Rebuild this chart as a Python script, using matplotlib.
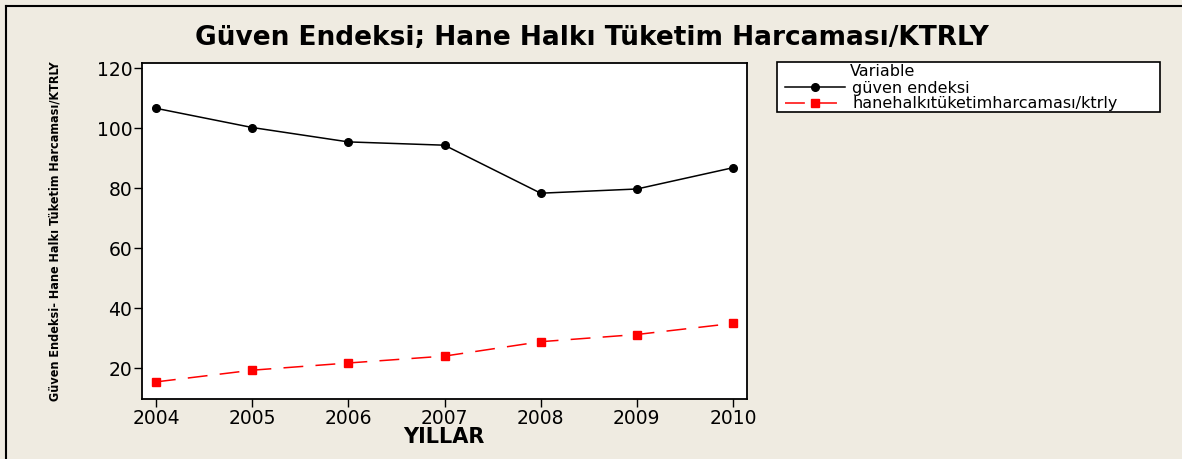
import matplotlib.pyplot as plt
from matplotlib.lines import Line2D
from matplotlib.patches import Rectangle

years = [2004, 2005, 2006, 2007, 2008, 2009, 2010]
guven = [106.6, 100.2, 95.4, 94.3, 78.3, 79.7, 86.8]
hane = [15.4, 19.3, 21.7, 24.0, 28.8, 31.2, 34.9]

yticks = [20, 40, 60, 80, 100, 120]

BG = "#efebe1"

fig = plt.figure(figsize=(11.82, 4.59), dpi=100, facecolor=BG)
W, H = 1182, 459

# axes box in pixel coords (left, top, right, bottom)
l, t, r, b = 142, 63, 747, 399
ax = fig.add_axes([l / W, 1 - b / H, (r - l) / W, (b - t) / H])
ax.set_facecolor("white")

ax.plot(years, guven, color="black", lw=1.1, marker="o", ms=5.5,
        label="güven endeksi")
ax.plot(years, hane, color="red", lw=1.1, ls=(0, (13, 8)), marker="s", ms=6,
        label="hanehalkıtüketimharcaması/ktrly")

ax.set_xlim(2003.855, 2010.145)
ax.set_ylim(9.7, 121.7)
ax.set_xticks(years)
ax.set_yticks(yticks)
ax.tick_params(labelsize=13.5, length=5.5, width=1, color="black", pad=1.5)
for s in ax.spines.values():
    s.set_linewidth(1.3)

fig.text(444 / W, 1 - 437 / H, "YILLAR", ha="center", va="center",
         fontsize=15, fontweight="bold")
fig.text(55 / W, 1 - 231 / H, "Güven Endeksi- Hane Halkı Tüketim Harcaması/KTRLY",
         ha="center", va="center", rotation=90, fontsize=9,
         fontweight="bold", family="DejaVu Sans", fontstretch="condensed")

fig.text(592 / W, 1 - 38 / H, "Güven Endeksi; Hane Halkı Tüketim Harcaması/KTRLY",
         ha="center", va="center", fontsize=19, fontweight="bold")

# outer frame (top and left only visible)
fig.add_artist(Line2D([6 / W, 1], [1 - 6 / H, 1 - 6 / H], color="black", lw=1.5,
                      transform=fig.transFigure))
fig.add_artist(Line2D([6 / W, 6 / W], [0, 1 - 6 / H], color="black", lw=1.5,
                      transform=fig.transFigure))

# legend box
lx0, ly0, lx1, ly1 = 777, 62, 1160, 112
fig.add_artist(Rectangle((lx0 / W, 1 - ly1 / H), (lx1 - lx0) / W, (ly1 - ly0) / H,
                         transform=fig.transFigure, facecolor="white",
                         edgecolor="black", lw=1.2))
fig.text(850 / W, 1 - 72 / H, "Variable", ha="left", va="center", fontsize=11.5)
handles, labels = ax.get_legend_handles_labels()
fig.legend(handles, labels, loc="upper left", bbox_to_anchor=(783 / W, 1 - 79 / H),
           frameon=False, fontsize=11.5, handlelength=3.8,
           handletextpad=0.45, borderaxespad=0, labelspacing=0.05,
           borderpad=0.1)

fig.savefig("out.png", dpi=100, facecolor=BG)
